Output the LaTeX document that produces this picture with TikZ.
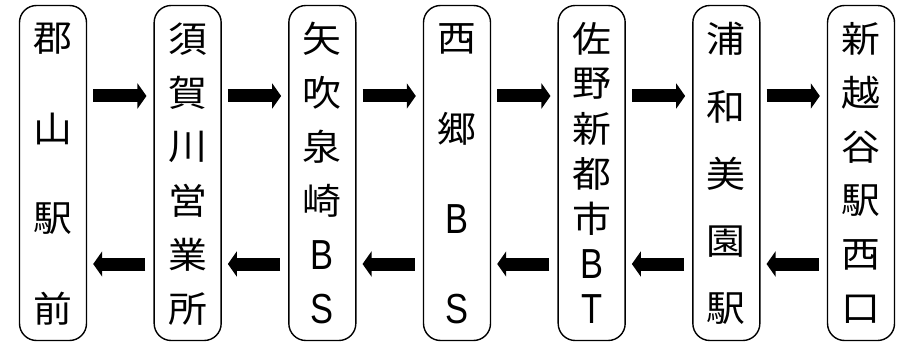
\documentclass[tikz,border=0pt]{standalone}
\usepackage{fontspec}
\setmainfont[FakeStretch=1.08]{Noto Sans CJK JP}
\newfontfamily\latn[FakeStretch=0.82]{Liberation Sans}
\usetikzlibrary{math,calc,arrows.meta}

\tikzset{
  stop/.style={draw,line width=1.4pt,rounded corners=17pt,minimum width=67pt,minimum height=335pt,inner sep=0pt},
  moji/.style={font=\fontsize{36}{36}\selectfont,inner sep=0pt},
  fwd/.style={line width=13pt,-{Triangle[length=9pt,width=25pt]},shorten <=6pt,shorten >=7pt},
  bwd/.style={line width=13pt,-{Triangle[length=9pt,width=25pt]},shorten <=8pt,shorten >=6pt},
}
\newcommand{\abc}[1]{{\latn\fontsize{42}{42}\selectfont #1}}

\begin{document}
\begin{tikzpicture}[x=1pt,y=1pt]
  \useasboundingbox (0,0) rectangle (903,346);

  \foreach \i/\cnt/\names in {1/4/{郡,山,駅,前},2/6/{須,賀,川,営,業,所},3/6/{矢,吹,泉,崎,\abc B,\abc S},4/4/{西,郷,\abc B,\abc S},5/7/{佐,野,新,都,市,\abc B,\abc T},6/5/{浦,和,美,園,駅},7/6/{新,越,谷,駅,西,口}} {
    \node[stop] (st\i) at ({53+134.67*(\i-1)},173) {};
    \foreach \ch [count=\kk] in \names {
      \tikzmath{
        real \yy;
        \yy = 134 - 270 * (\kk - 1) / (\cnt - 1);
      }
      \node[moji] (st\i-\kk) at ($ (st\i) + (0, \yy) $) {\ch};
    }
  }

  \foreach \i in {1,...,6} {
    \tikzmath{
      integer \j;
      \j = \i + 1;
    }
    \draw[fwd] ([yshift=77pt]st\i.east) -- ([yshift=77pt]st\j.west);
    \draw[bwd] ([yshift=-91pt]st\j.west) -- ([yshift=-91pt]st\i.east);
  }
\end{tikzpicture}
\end{document}
